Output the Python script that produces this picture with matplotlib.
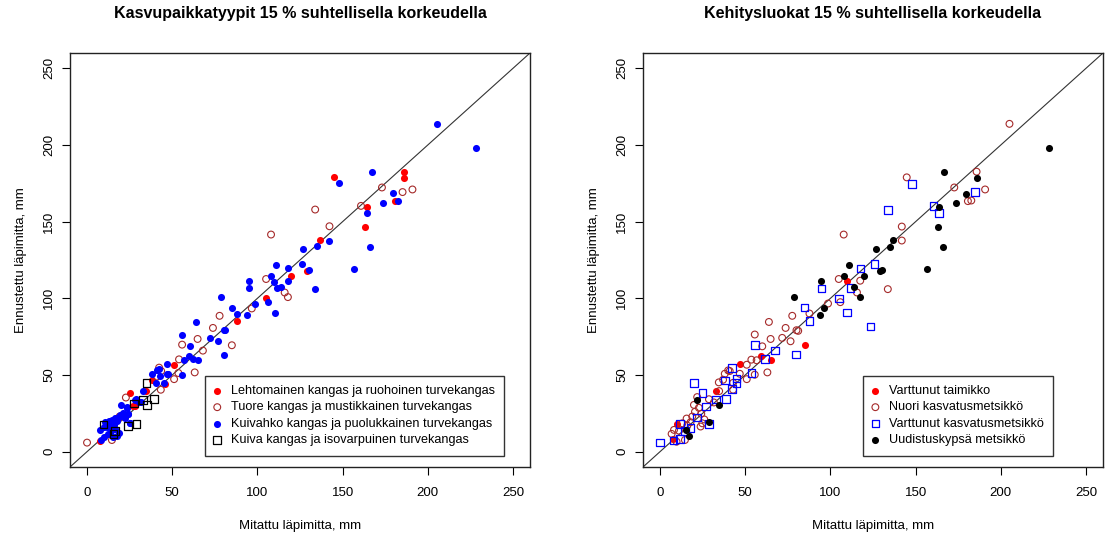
import numpy as np
import matplotlib.pyplot as plt

plt.rcParams['font.family'] = ['Liberation Sans', 'DejaVu Sans']

# --- vasen paneeli: kasvupaikkatyypit ---
lehto_x = [145.2, 186.2, 186.2, 180.9, 164.3, 163.2, 136.8, 129.0, 119.7, 105.1, 87.9,
           50.9, 46.0, 38.4, 34.7, 25.0, 27.1, 7.8, 27.9, 12.3]
lehto_y = [178.9, 182.6, 178.7, 163.4, 159.7, 146.8, 138.1, 118.0, 114.5, 100.1, 85.1,
           56.7, 44.3, 46.5, 39.3, 38.2, 29.5, 7.2, 30.1, 17.0]

tuore_x = [191.0, 185.2, 173.1, 160.8, 133.9, 142.3, 108.0, 105.1, 116.0, 117.9, 96.7,
           77.8, 73.9, 64.9, 68.0, 85.0, 55.8, 54.0, 63.2, 51.1, 53.6, 42.3, 43.5,
           43.3, 22.8, 19.1, 0.0, 14.6, 19.5, 41.0]
tuore_y = [171.0, 169.3, 172.3, 160.3, 157.9, 147.0, 141.6, 112.6, 103.8, 100.8, 93.4,
           88.6, 80.7, 73.5, 65.9, 69.4, 69.8, 60.2, 51.7, 47.3, 51.3, 54.8, 52.6,
           40.4, 35.3, 22.9, 5.9, 7.6, 22.5, 49.0]

kuivahko_x = [205.3, 228.1, 167.1, 148.1, 179.7, 182.8, 173.9, 164.1, 166.1, 142.3, 134.9,
              126.9, 156.7, 126.1, 130.2, 133.9, 110.9, 108.0, 117.9, 117.9, 109.7, 111.7,
              113.8, 106.0, 110.1, 98.8, 94.9, 94.9, 78.8, 85.0, 87.9, 93.8, 64.1, 55.8,
              71.9, 76.8, 80.1, 81.1, 80.1, 60.2, 59.6, 56.9, 62.4, 64.9, 47.0, 55.8,
              47.0, 41.1, 38.4, 42.9, 40.4, 45.0, 32.6, 28.8, 31.8, 20.1, 23.2, 24.0,
              22.0, 25.0, 42.3, 47.4, 23.4, 28.2, 30.6,
              7.8, 9.7, 10.7, 12.7, 14.6, 16.2, 17.5, 18.5, 19.5, 21.4, 11.7, 13.6,
              14.2, 16.5, 12.3, 9.7, 8.4, 15.0, 17.5, 25.3, 24.0, 13.0, 16.0, 19.0]
kuivahko_y = [213.8, 197.9, 182.6, 175.0, 168.4, 163.8, 161.9, 155.8, 133.3, 137.7, 133.9,
              132.2, 119.1, 122.4, 118.5, 106.0, 121.7, 114.7, 119.5, 111.5, 110.8, 106.5,
              107.5, 97.7, 90.5, 96.6, 111.5, 106.5, 100.6, 93.8, 90.1, 89.0, 84.6, 76.4,
              74.2, 72.0, 79.2, 79.2, 63.3, 68.7, 62.2, 59.6, 60.4, 60.0, 57.2, 50.2,
              50.6, 53.0, 50.6, 49.1, 44.7, 44.9, 39.3, 34.2, 32.1, 30.5, 28.6, 24.7,
              22.0, 18.5, 54.1, 50.6, 29.0, 33.8, 32.3,
              14.0, 15.8, 19.1, 20.2, 20.9, 22.1, 19.9, 22.9, 24.2, 25.1, 15.8, 16.9,
              13.8, 14.9, 11.6, 9.4, 7.3, 9.4, 10.5, 18.8, 24.3, 18.0, 17.5, 12.5]

kuiva_x = [34.9, 39.2, 32.7, 35.1, 29.0, 24.2, 9.7, 15.6, 16.5, 27.5]
kuiva_y = [44.9, 34.5, 33.8, 30.5, 18.1, 16.8, 17.7, 11.5, 13.5, 31.5]

# --- oikea paneeli: kehitysluokat ---
taimikko_x = [109.7, 85.0, 59.3, 64.9, 46.8, 32.6, 9.7, 7.6]
taimikko_y = [111.0, 69.4, 62.2, 59.8, 57.2, 39.3, 17.9, 8.3]

nuori_x = [205.1, 185.8, 144.8, 190.8, 172.7, 180.7, 182.7, 141.9, 141.9, 107.8, 133.7,
           104.9, 117.5, 115.6, 105.8, 98.6, 87.7, 77.6, 73.7, 63.9, 80.1, 81.1, 64.9,
           71.7, 76.6, 55.6, 60.0, 53.6, 56.7, 50.9, 63.0, 55.6, 50.9, 46.8, 38.0,
           40.0, 40.9, 42.9, 34.5, 37.0, 42.9, 34.7, 28.7, 31.6, 19.9, 22.8, 24.2,
           18.9, 21.8, 15.6, 13.1, 24.8, 23.8, 8.2, 6.8, 11.1, 14.6, 9.7, 16.0, 17.9,
           20.5, 26.0]
nuori_y = [213.8, 182.6, 178.9, 171.0, 172.3, 163.4, 163.8, 146.8, 137.7, 141.6, 106.0,
           112.6, 111.5, 103.8, 97.5, 96.6, 90.1, 88.6, 80.7, 84.6, 79.2, 78.8, 73.5,
           74.2, 72.0, 76.4, 68.7, 60.0, 59.6, 56.7, 51.7, 50.2, 47.3, 50.8, 50.8,
           53.0, 52.6, 44.9, 45.2, 46.9, 40.4, 39.5, 34.2, 32.1, 30.5, 28.6, 24.7,
           22.9, 35.6, 21.6, 18.5, 18.5, 16.4, 14.2, 11.6, 13.7, 7.6, 6.5, 17.0, 19.2,
           26.0, 21.0]

varttunut_x = [147.8, 184.8, 160.6, 163.7, 133.7, 117.7, 125.9, 94.7, 111.7, 104.9, 109.9,
               123.6, 84.8, 87.7, 67.6, 79.9, 55.8, 61.6, 53.6, 42.1, 44.8, 44.8, 38.0,
               42.1, 38.8, 32.7, 19.9, 25.0, 27.1, 21.8, 28.7, 17.9, 11.7, 14.6, 11.7,
               7.8, 0.0]
varttunut_y = [174.5, 169.3, 160.1, 155.5, 157.5, 119.5, 122.4, 106.5, 106.7, 99.9, 90.8,
               81.6, 94.0, 85.3, 66.1, 63.3, 69.6, 60.6, 51.5, 54.5, 47.6, 44.7, 46.5,
               40.8, 34.5, 34.0, 44.9, 38.2, 29.5, 22.3, 17.9, 15.3, 18.1, 13.3, 8.3,
               7.2, 6.1]

uudistus_x = [228.1, 166.9, 186.0, 179.7, 173.9, 163.9, 163.0, 165.9, 156.7, 136.6, 134.7,
              126.7, 110.7, 107.8, 119.5, 129.0, 130.0, 113.8, 117.5, 94.5, 78.4, 96.5,
              93.6, 21.8, 34.5, 28.7, 17.2, 15.0]
uudistus_y = [197.9, 182.6, 178.7, 168.2, 161.9, 159.7, 146.8, 133.3, 119.1, 138.1, 133.7,
              132.2, 121.7, 114.7, 114.7, 118.0, 118.5, 107.5, 100.8, 111.5, 100.6, 93.4,
              89.0, 33.8, 30.5, 19.6, 10.3, 14.0]

titles = ["Kasvupaikkatyypit 15 % suhtellisella korkeudella",
          "Kehitysluokat 15 % suhtellisella korkeudella"]
ticks = [0, 50, 100, 150, 200, 250]

fig = plt.figure(figsize=(11.05, 5.33), dpi=100)
ax1 = fig.add_axes([70 / 1105, 66 / 533, 460 / 1105, 414 / 533])
ax2 = fig.add_axes([643 / 1105, 66 / 533, 460 / 1105, 414 / 533])

FS = 26   # täytetyt pallot
OS = 24   # avoimet pallot
SS = 30   # neliöt

ax1.scatter(lehto_x, lehto_y, s=FS, c='#FF0000', marker='o', linewidths=0, zorder=3,
            label='Lehtomainen kangas ja ruohoinen turvekangas')
ax1.scatter(tuore_x, tuore_y, s=OS, facecolors='none', edgecolors='#A52A2A', marker='o',
            linewidths=0.8, zorder=3, label='Tuore kangas ja mustikkainen turvekangas')
ax1.scatter(kuivahko_x, kuivahko_y, s=FS, c='#0000FF', marker='o', linewidths=0, zorder=3,
            label='Kuivahko kangas ja puolukkainen turvekangas')
ax1.scatter(kuiva_x, kuiva_y, s=SS, facecolors='none', edgecolors='black', marker='s',
            linewidths=0.9, zorder=3, label='Kuiva kangas ja isovarpuinen turvekangas')

ax2.scatter(taimikko_x, taimikko_y, s=FS, c='#FF0000', marker='o', linewidths=0, zorder=3,
            label='Varttunut taimikko')
ax2.scatter(nuori_x, nuori_y, s=OS, facecolors='none', edgecolors='#A52A2A', marker='o',
            linewidths=0.8, zorder=3, label='Nuori kasvatusmetsikkö')
ax2.scatter(varttunut_x, varttunut_y, s=SS, facecolors='none', edgecolors='#0000FF', marker='s',
            linewidths=0.9, zorder=3, label='Varttunut kasvatusmetsikkö')
ax2.scatter(uudistus_x, uudistus_y, s=FS, c='black', marker='o', linewidths=0, zorder=3,
            label='Uudistuskypsä metsikkö')

legend_anchor = [(504 - 70) / 460, (1053 - 643) / 460]

for i, ax in enumerate([ax1, ax2]):
    ax.axline((0, 0), slope=1, color='#333333', lw=0.8, zorder=2)
    ax.set_xlim(-10, 260)
    ax.set_ylim(-10, 260)
    ax.set_xticks(ticks)
    ax.set_yticks(ticks)
    ax.tick_params(direction='out', length=5.5, width=0.8, labelsize=9.5,
                   colors='black')
    ax.tick_params(axis='x', pad=9)
    ax.tick_params(axis='y', pad=5)
    for lab in ax.get_yticklabels():
        lab.set_rotation(90)
        lab.set_va('center')
    for sp in ax.spines.values():
        sp.set_linewidth(1.0)
        sp.set_color('#222222')
    ax.set_title(titles[i], fontsize=11.5, fontweight='bold', pad=25)
    ax.set_xlabel('Mitattu läpimitta, mm', fontsize=9.5, labelpad=15)
    ax.set_ylabel('Ennustettu läpimitta, mm', fontsize=9.5, labelpad=12)
    leg = ax.legend(loc='lower right', bbox_to_anchor=(legend_anchor[i], 0.027),
                    fontsize=9.1, frameon=True, fancybox=False, edgecolor='black',
                    borderpad=0.75, labelspacing=0.35, handletextpad=0.85,
                    handlelength=0.4, borderaxespad=0)
    leg.get_frame().set_linewidth(1.0)

fig.savefig('out.png', dpi=100)
